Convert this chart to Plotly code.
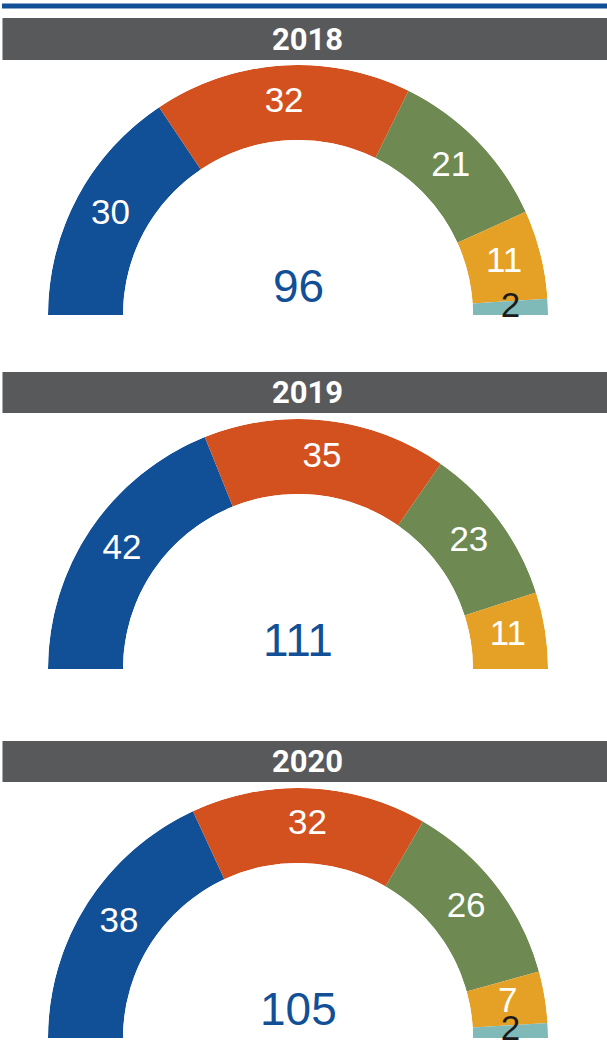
import plotly.graph_objects as go

# ---- data ----
years = ["2018", "2019", "2020"]
categories = ["A", "B", "C", "D", "E"]
values_2018 = [30, 32, 21, 11, 2]
values_2019 = [42, 35, 23, 11, 0]
values_2020 = [38, 32, 26, 7, 2]
series = [values_2018, values_2019, values_2020]

colors = ["#114F96", "#D3511F", "#6E8A52", "#E5A125", "#7FB9B8"]
label_colors = ["white", "white", "white", "white", "#1a1a1a"]

W, H = 607, 1048
# pixel layout of each gauge: (baseline y, header top, header bottom)
gauges = [(315, 18, 60), (669, 372, 413), (1038, 741, 782)]
cx, R = 298, 250
x0, x1 = cx - R, cx + R

fig = go.Figure()
shapes = []
annotations = []

# top rule
shapes.append(dict(type="rect", xref="paper", yref="paper",
                   x0=2 / W, x1=1, y0=1 - 8.5 / H, y1=1 - 3.5 / H,
                   fillcolor="#114F96", line=dict(width=0), layer="above"))

for i, (year, vals) in enumerate(zip(years, series)):
    base_y, h0, h1 = gauges[i]
    total = sum(vals)
    pname = "polar" if i == 0 else f"polar{i + 1}"
    sub = pname

    cum = 0
    mids = []
    texts = []
    tcolors = []
    for v, c, lc in zip(vals, colors, label_colors):
        if v <= 0:
            continue
        width = v / total * 180
        mid = (cum + v / 2) / total * 180
        fig.add_trace(go.Barpolar(
            r=[1], theta=[mid], width=[width], base=0,
            marker=dict(color=c, line=dict(width=0)),
            subplot=sub, hoverinfo="skip", showlegend=False))
        mids.append(mid)
        texts.append(str(v))
        tcolors.append(lc)
        cum += v

    fig.add_trace(go.Scatterpolar(
        r=[0.5] * len(mids), theta=mids, mode="text", text=texts,
        textposition="middle center",
        textfont=dict(family="Liberation Sans, Arial, sans-serif", size=35, color=tcolors),
        cliponaxis=False, subplot=sub, hoverinfo="skip", showlegend=False))

    top_y = base_y - R
    fig.update_layout(**{pname: dict(
        domain=dict(x=[x0 / W, x1 / W], y=[1 - base_y / H, 1 - top_y / H]),
        sector=[0, 180],
        hole=0.70,
        bgcolor="rgba(0,0,0,0)",
        radialaxis=dict(visible=False, range=[0, 1]),
        angularaxis=dict(visible=False, rotation=180, direction="clockwise",
                         showgrid=False, showline=False, showticklabels=False, ticks=""),
    )})

    # header bar
    shapes.append(dict(type="rect", xref="paper", yref="paper",
                       x0=2.5 / W, x1=1, y0=1 - h1 / H, y1=1 - h0 / H,
                       fillcolor="#58595B", line=dict(width=0), layer="below"))
    annotations.append(dict(x=307.5 / W, y=1 - (h0 + h1) / 2 / H, xref="paper", yref="paper",
                            text=f"<b>{year}</b>", showarrow=False,
                            font=dict(family="Roboto, sans-serif", size=31, color="white"),
                            xanchor="center", yanchor="middle"))
    # total in the middle
    annotations.append(dict(x=cx / W, y=1 - (base_y - 29) / H, xref="paper", yref="paper",
                            text=str(total), showarrow=False,
                            font=dict(family="Liberation Sans, Arial, sans-serif", size=46, color="#114F96"),
                            xanchor="center", yanchor="middle"))

fig.update_layout(width=W, height=H, margin=dict(l=0, r=0, t=0, b=0),
                  paper_bgcolor="white", plot_bgcolor="white",
                  shapes=shapes, annotations=annotations, showlegend=False)

fig.write_html("out.html", config={"displayModeBar": False},
               post_script="document.body.style.margin='0';document.body.style.overflow='hidden';")
